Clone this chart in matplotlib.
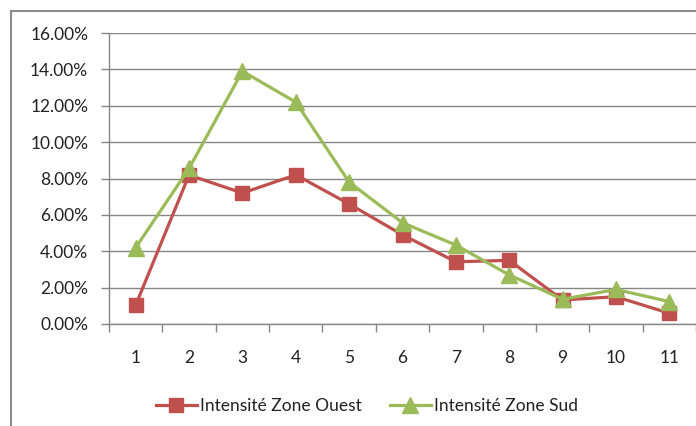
import matplotlib.pyplot as plt
from matplotlib.lines import Line2D
from matplotlib.ticker import FuncFormatter, FixedLocator

plt.rcParams['font.family'] = ['Lato', 'DejaVu Sans']

# data
categories = [1, 2, 3, 4, 5, 6, 7, 8, 9, 10, 11]
ouest = [1.04, 8.19, 7.2, 8.2, 6.6, 4.9, 3.42, 3.5, 1.32, 1.5, 0.59]
sud = [4.2, 8.55, 13.9, 12.2, 7.8, 5.57, 4.34, 2.7, 1.36, 1.9, 1.23]

red = '#C0504D'
green = '#9BBB59'
grey = '#868686'

fig = plt.figure(figsize=(6.96, 4.26), dpi=100)
ax = fig.add_axes([109 / 696, 1 - 324 / 426, 1 - 109 / 696, (324 - 33) / 426])

ax.plot(categories, ouest, color=red, lw=2.3, marker='s', ms=10,
        label='Intensité Zone Ouest', zorder=3)
ax.plot(categories, sud, color=green, lw=2.3, marker='^', ms=11,
        label='Intensité Zone Sud', zorder=4)

ax.set_xlim(0.5, 11.5)
ax.set_ylim(0, 16)
ax.set_yticks(range(0, 17, 2))
ax.yaxis.set_major_formatter(FuncFormatter(lambda v, p: f'{v:.2f}%'))
ax.yaxis.grid(True, color=grey, lw=1)
ax.set_axisbelow(True)

ax.set_xticks(categories)
ax.xaxis.set_minor_locator(FixedLocator([c - 0.5 for c in categories] + [11.5]))
ax.tick_params(axis='x', which='major', length=0, pad=19, labelsize=12.5, colors='#222222')
ax.tick_params(axis='x', which='minor', length=6, color=grey, width=1)
ax.tick_params(axis='y', length=6, color=grey, width=1, pad=9, labelsize=12.5, labelcolor='#222222')

for s in ['top', 'right']:
    ax.spines[s].set_visible(False)
for s in ['left', 'bottom']:
    ax.spines[s].set_color(grey)
    ax.spines[s].set_linewidth(1)

handles = [Line2D([], [], color=red, lw=2.3, marker='s', ms=10),
           Line2D([], [], color=green, lw=2.3, marker='^', ms=11)]
fig.legend(handles, ['Intensité Zone Ouest', 'Intensité Zone Sud'],
           loc='center', bbox_to_anchor=(367 / 696, 1 - 406 / 426), ncol=2,
           frameon=False, fontsize=12.5, handlelength=2.35, columnspacing=1.6,
           handletextpad=0.2, labelcolor='#222222')

# outer chart border (cropped on the right and bottom)
fig.add_artist(Line2D([11 / 696, 11 / 696], [0, 1 - 11 / 426], color='#8c8c8c', lw=1.5,
                      transform=fig.transFigure))
fig.add_artist(Line2D([11 / 696, 1], [1 - 11 / 426, 1 - 11 / 426], color='#8c8c8c', lw=1.5,
                      transform=fig.transFigure))

fig.savefig('out.png', dpi=100)
